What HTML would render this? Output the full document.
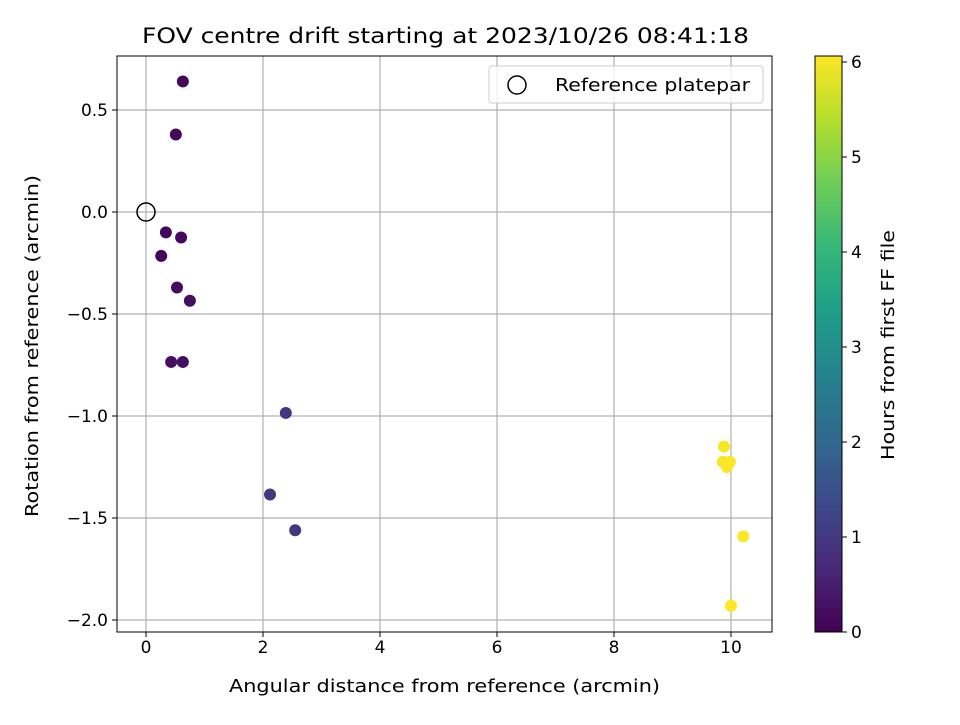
<!DOCTYPE html>
<html><head><meta charset="utf-8"><style>
body{margin:0;background:#fff;font-family:"Liberation Sans","DejaVu Sans",sans-serif}
svg text{font-family:"DejaVu Sans","Liberation Sans",sans-serif;fill:#000}
</style></head><body>
<svg id="c" width="960" height="720"></svg>
<script>
const xs=[0.63,0.51,0.34,0.60,0.26,0.53,0.75,0.43,0.63,2.39,2.12,2.55,9.88,9.86,9.98,9.93,10.21,10.0];
const ys=[0.64,0.38,-0.10,-0.125,-0.215,-0.37,-0.435,-0.735,-0.735,-0.985,-1.385,-1.56,-1.15,-1.225,-1.225,-1.25,-1.59,-1.93];
const hours=[0.1,0.12,0.14,0.16,0.05,0.18,0.2,0.22,0.24,0.95,0.97,0.99,6.0,6.01,6.02,6.03,6.04,6.05];
const xTicks=[0,2,4,6,8,10];
const yTicks=[0.5,0.0,-0.5,-1.0,-1.5,-2.0];
const cTicks=[0,1,2,3,4,5,6];
const L=117,R=772,T=56,B=632;
const X=v=>146+58.5*v, Y=v=>212-204*v;
const CB=v=>632-95*v;
const vir=[[68,1,84],[72,40,120],[62,74,137],[49,104,142],[38,130,142],[31,158,137],[53,183,121],[109,205,89],[180,222,44],[253,231,37]];
function col(h){let t=Math.max(0,Math.min(1,h/6.06))*9,i=Math.min(8,Math.floor(t)),f=t-i;const a=vir[i],b=vir[i+1];return`rgb(${a.map((v,k)=>Math.round(v+(b[k]-v)*f)).join(',')})`;}
const s=document.getElementById('c');const NS='http://www.w3.org/2000/svg';
function el(t,at,txt){const e=document.createElementNS(NS,t);for(const k in at)e.setAttribute(k,at[k]);if(txt!==undefined)e.textContent=txt;s.appendChild(e);return e;}
xTicks.forEach(v=>{const g=el('line',{x1:X(v),x2:X(v),y1:T,y2:B,stroke:'#b0b0b0','stroke-width':1.2});});
yTicks.forEach(v=>{const g=el('line',{x1:L,x2:R,y1:Y(v),y2:Y(v),stroke:'#b0b0b0','stroke-width':1.2});});
xs.forEach((x,i)=>{const p=el('circle',{cx:X(x),cy:Y(ys[i]),r:6,fill:col(hours[i])});});
const ref=el('circle',{cx:X(0),cy:Y(0),r:9,fill:'none',stroke:'#000','stroke-width':1.5});
const fr=el('rect',{x:L,y:T,width:R-L,height:B-T,fill:'none',stroke:'#000','stroke-width':1});
xTicks.forEach(v=>{el('line',{x1:X(v),x2:X(v),y1:B,y2:B+5,stroke:'#000'});const t=el('text',{x:X(v),y:B+21,'text-anchor':'middle','font-size':17},String(v));});
yTicks.forEach(v=>{el('line',{x1:L-5,x2:L,y1:Y(v),y2:Y(v),stroke:'#000'});const t=el('text',{x:L-9,y:Y(v)+6,'text-anchor':'end','font-size':17},v.toFixed(1).replace('-','\u2212'));});
const LA='spacingAndGlyphs';
let t=el('text',{x:142,y:43,'font-size':21,textLength:607,lengthAdjust:LA},'FOV centre drift starting at 2023/10/26 08:41:18');
t=el('text',{x:229,y:692,'font-size':18,textLength:431,lengthAdjust:LA},'Angular distance from reference (arcmin)');
t=el('text',{x:0,y:0,'font-size':18,textLength:342,lengthAdjust:LA,transform:'translate(38 517) rotate(-90)'},'Rotation from reference (arcmin)');
const lg=el('rect',{x:489,y:66,width:274,height:37,rx:3,fill:'#fff','fill-opacity':0.8,stroke:'#ccc'});
el('circle',{cx:517,cy:85,r:9,fill:'none',stroke:'#000','stroke-width':1.5});
t=el('text',{x:555,y:91,'font-size':18,textLength:195,lengthAdjust:LA},'Reference platepar');
const defs=el('defs',{});const gr=document.createElementNS(NS,'linearGradient');gr.setAttribute('id','vg');gr.setAttribute('x1','0');gr.setAttribute('y1','1');gr.setAttribute('x2','0');gr.setAttribute('y2','0');defs.appendChild(gr);
vir.forEach((c,i)=>{const st=document.createElementNS(NS,'stop');st.setAttribute('offset',i/9);st.setAttribute('stop-color',`rgb(${c.join(',')})`);gr.appendChild(st);});
const cb=el('rect',{x:815,y:56,width:27,height:576,fill:'url(#vg)',stroke:'#000','stroke-width':1});
cTicks.forEach(v=>{el('line',{x1:842,x2:847,y1:CB(v),y2:CB(v),stroke:'#000'});const tt=el('text',{x:851,y:CB(v)+6,'font-size':17},String(v));});
t=el('text',{x:0,y:0,'font-size':18,textLength:230,lengthAdjust:LA,transform:'translate(894 460) rotate(-90)'},'Hours from first FF file');
</script>
</body></html>
